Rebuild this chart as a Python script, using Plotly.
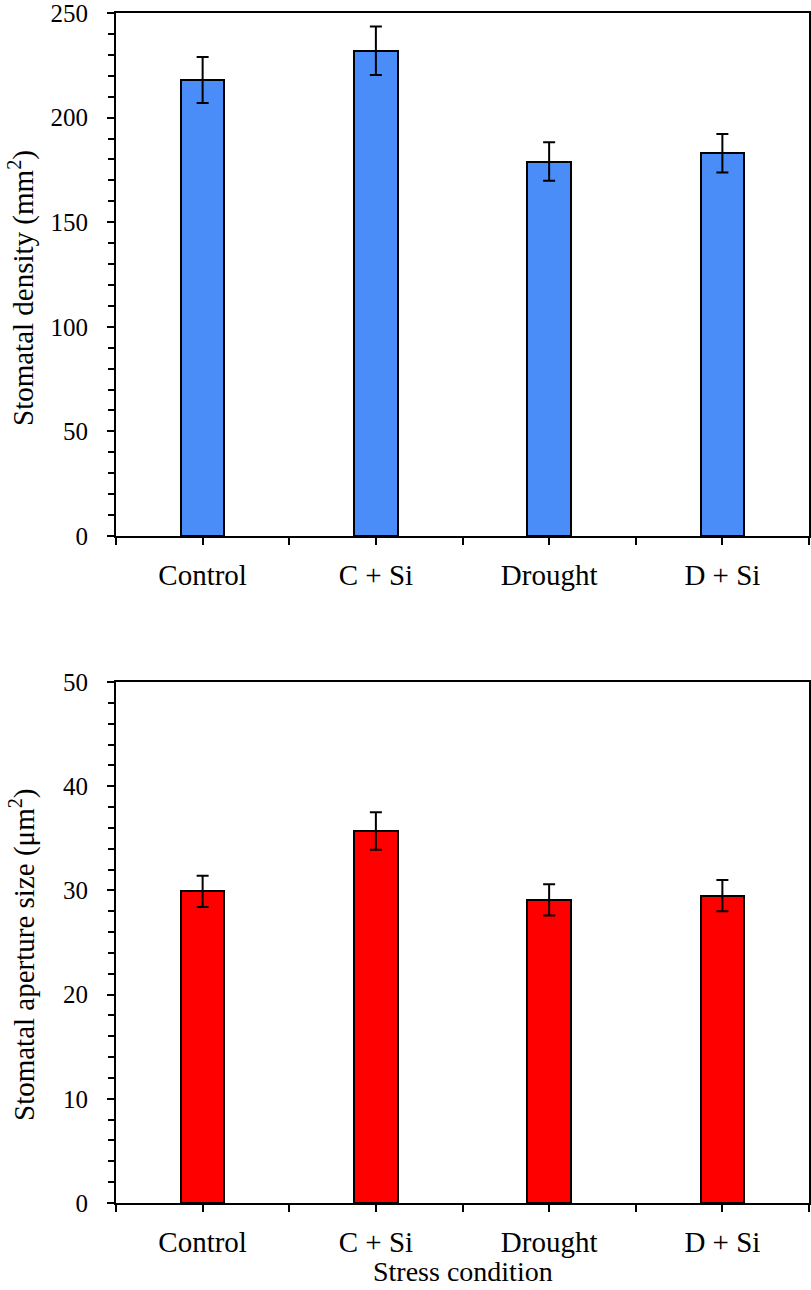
import plotly.graph_objects as go
from plotly.subplots import make_subplots

categories = ["Control", "C + Si", "Drought", "D + Si"]
density = [218, 232, 179, 183]
density_err = [11, 11.6, 9.2, 9.2]
aperture = [29.9, 35.7, 29.1, 29.5]
aperture_err = [1.5, 1.8, 1.5, 1.5]

xpos = list(range(len(categories)))
FONT = "Liberation Serif"
W, H = 811, 1290
ML, MR, MT, MB = 116, 2, 13, 87
PH = H - MT - MB
PW = W - ML - MR

fig = make_subplots(rows=2, cols=1, vertical_spacing=0.12)

fig.add_trace(go.Bar(
    x=xpos, y=density, width=0.25,
    marker=dict(color="#4A8CF8", line=dict(color="black", width=2)),
    error_y=dict(type="data", array=density_err, color="black", thickness=2, width=6),
    showlegend=False, hoverinfo="skip"), row=1, col=1)

fig.add_trace(go.Bar(
    x=xpos, y=aperture, width=0.25,
    marker=dict(color="#FF0000", line=dict(color="black", width=2)),
    error_y=dict(type="data", array=aperture_err, color="black", thickness=2, width=6),
    showlegend=False, hoverinfo="skip"), row=2, col=1)

fig.update_xaxes(
    range=[-0.5, len(categories) - 0.5], tickmode="array", tickvals=xpos, ticktext=categories,
    ticks="outside", ticklen=7, tickwidth=2, tickcolor="black",
    minor=dict(tickmode="array", tickvals=[i - 0.5 for i in range(len(categories) + 1)],
               ticks="outside", ticklen=7, tickwidth=2, tickcolor="black"),
    showline=True, linecolor="black", linewidth=2, mirror=True,
    showgrid=False, zeroline=False, automargin=False, ticklabelstandoff=5,
    ticklabeloverflow="allow",
    tickfont=dict(family=FONT, size=29, color="black"),
)

fig.update_yaxes(
    ticks="outside", ticklen=7, tickwidth=2, tickcolor="black",
    showline=True, linecolor="black", linewidth=2, mirror=True,
    showgrid=False, zeroline=False, automargin=False, ticklabelstandoff=14,
    ticklabeloverflow="allow",
    tickfont=dict(family=FONT, size=25, color="black"),
)
fig.update_yaxes(range=[0, 250], dtick=50,
                 minor=dict(dtick=10, ticks="outside", ticklen=6, tickwidth=2, tickcolor="black"),
                 row=1, col=1)
fig.update_yaxes(range=[0, 50], dtick=10,
                 minor=dict(dtick=2, ticks="outside", ticklen=6, tickwidth=2, tickcolor="black"),
                 row=2, col=1)

def px_x(p):
    return (p - ML) / PW

def px_y(p):
    return (H - MB - p) / PH

title_font = dict(family=FONT, size=29, color="black")
fig.add_annotation(text="Stomatal density (mm<sup>2</sup>)", textangle=-90,
                   xref="paper", yref="paper", x=px_x(22), y=px_y(288),
                   xanchor="center", yanchor="middle", showarrow=False, font=title_font)
fig.add_annotation(text="Stomatal aperture size (μm<sup>2</sup>)", textangle=-90,
                   xref="paper", yref="paper", x=px_x(22), y=px_y(955),
                   xanchor="center", yanchor="middle", showarrow=False, font=title_font)
fig.add_annotation(text="Stress condition",
                   xref="paper", yref="paper", x=0.5, y=px_y(1271),
                   xanchor="center", yanchor="middle", showarrow=False,
                   font=dict(family=FONT, size=28, color="black"))

fig.update_layout(
    width=W, height=H,
    margin=dict(l=ML, r=MR, t=MT, b=MB),
    plot_bgcolor="white", paper_bgcolor="white",
    font=dict(family=FONT, color="black"),
    bargap=0, hovermode=False,
)
fig.layout.yaxis.domain = [px_y(536), 1.0]
fig.layout.yaxis2.domain = [0.0, px_y(682)]

fig.write_html("out.html", config={"displayModeBar": False},
               post_script="document.body.style.margin='0';document.body.style.padding='0';")
